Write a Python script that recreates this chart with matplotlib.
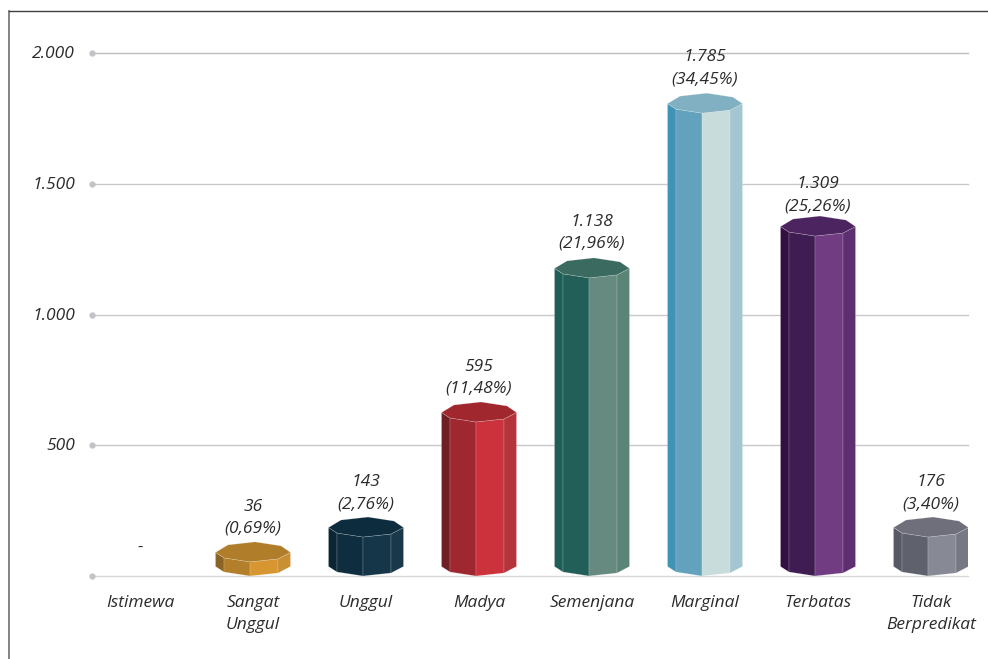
import matplotlib
matplotlib.use("Agg")
import matplotlib.pyplot as plt
from matplotlib.patches import Polygon
from matplotlib.lines import Line2D

plt.rcParams['font.family'] = ['Open Sans', 'DejaVu Sans']

# -----------------------------
# Data
# -----------------------------
categories = ["Istimewa", "Sangat\nUnggul", "Unggul", "Madya", "Semenjana", "Marginal", "Terbatas", "Tidak\nBerpredikat"]
# heights as the bars are drawn (they differ a little from the printed numbers)
bar_heights = [0, 54, 149, 589, 1140, 1770, 1300, 149]
count_labels = ["-", "36", "143", "595", "1.138", "1.785", "1.309", "176"]
share_labels = ["", "(0,69%)", "(2,76%)", "(11,48%)", "(21,96%)", "(34,45%)", "(25,26%)", "(3,40%)"]
y_ticks = [0, 500, 1000, 1500, 2000]
y_tick_labels = ["", "500", "1.000", "1.500", "2.000"]
grid_colors = ["#d8d8da", "#c8c8ca", "#c8c8ca", "#c8c8ca", "#bcbcbe"]

# far left, mid left, mid right, far right, top
bar_colors = [
    None,
    ["#8a6424", "#b37f2a", "#d7962f", "#c98f33", "#b07d2a"],
    ["#0b2533", "#0e2e40", "#153649", "#19394b", "#0d2d3e"],
    ["#6d1f24", "#9e2730", "#cb323c", "#b5343c", "#a0272e"],
    ["#1f5d57", "#235f59", "#668a7f", "#5a8476", "#3b6a60"],
    ["#3f93b5", "#62a2bc", "#c8dcdb", "#a4c6d1", "#82b0c3"],
    ["#330f42", "#3f1c52", "#713c82", "#5d2f70", "#4c2560"],
    ["#575964", "#5f616c", "#878a94", "#767883", "#6e6f7a"],
]
# small shifts of the value labels, in pixels
label_lift = [0, 0, 0, 0, 1, 1, -3, 0]

W, H = 988, 659
fig = plt.figure(figsize=(W / 100, H / 100), dpi=100)

# axes box in pixels: gridlines run 92..968, 0 at y=576, 2000 at y=53
left, right, y0, y2000 = 92, 968, 576, 53
ax = fig.add_axes([left / W, 1 - y0 / H, (right - left) / W, (y0 - y2000) / H])
px_x = 1 / 113  # one pixel in category units
px_y = 2000 / (y0 - y2000)  # one pixel in value units
ax.set_xlim((left - 140) * px_x, (right - 140) * px_x)
ax.set_ylim(0, 2000)
ax.axis("off")

# octagon outline, in pixels from the front vertex
oct_dx = [-37.5, -29, -3, 25, 37.5, 28, 2, -25]
oct_dy = [9.5, 4, 0, 3, 9.5, 16, 20, 17]
edge = (1, 1, 1, 0.3)
fs = 12.5

for y, lab, gc in zip(y_ticks, y_tick_labels, grid_colors):
    ax.plot([(left - 140) * px_x, (right - 140) * px_x], [y, y], color=gc, lw=1, zorder=1, clip_on=False)
    ax.plot([(left - 140) * px_x], [y], "o", color="#c2c2c7", ms=3.5, zorder=1, clip_on=False)
    ax.text((left - 140 - 17) * px_x, y - 1 * px_y, lab, ha="right", va="center", style="italic", fontsize=fs, color="#2b2b2b")

for i, (name, h) in enumerate(zip(categories, bar_heights)):
    ax.text(i, -19 * px_y, name, ha="center", va="top", style="italic", fontsize=fs,
            color="#2b2b2b", linespacing=1.5)
    if bar_colors[i] is None:
        ax.text(i, 28 * px_y, count_labels[i], ha="center", va="center", style="italic", fontsize=fs, color="#2b2b2b")
        continue
    cols = bar_colors[i]
    xs = [i + d * px_x for d in oct_dx]
    low = [d * px_y for d in oct_dy]
    top = [h + d * px_y for d in oct_dy]
    # four visible side faces
    for k in range(4):
        ax.add_patch(Polygon([(xs[k], low[k]), (xs[k + 1], low[k + 1]), (xs[k + 1], top[k + 1]), (xs[k], top[k])],
                             closed=True, fc=cols[k], ec=edge, lw=0.4, zorder=3))
    ax.add_patch(Polygon(list(zip(xs, top)), closed=True, fc=cols[4], ec=edge, lw=0.4, zorder=4))
    # value and share above the bar
    back = h + 20 * px_y
    lift = label_lift[i]
    ax.text(i, back + (35 + lift) * px_y, count_labels[i], ha="center", va="center", style="italic", fontsize=fs, color="#2b2b2b", zorder=5)
    ax.text(i, back + (13 + lift) * px_y, share_labels[i], ha="center", va="center", style="italic", fontsize=fs, color="#2b2b2b", zorder=5)

# page frame, left and top only
fig.add_artist(Line2D([9 / W, 9 / W], [0, 1 - 11 / H], color="#6e6e6e", lw=1.2))
fig.add_artist(Line2D([9 / W, 1], [1 - 11 / H, 1 - 11 / H], color="#404040", lw=1.0))

fig.savefig("out.png", dpi=100)
